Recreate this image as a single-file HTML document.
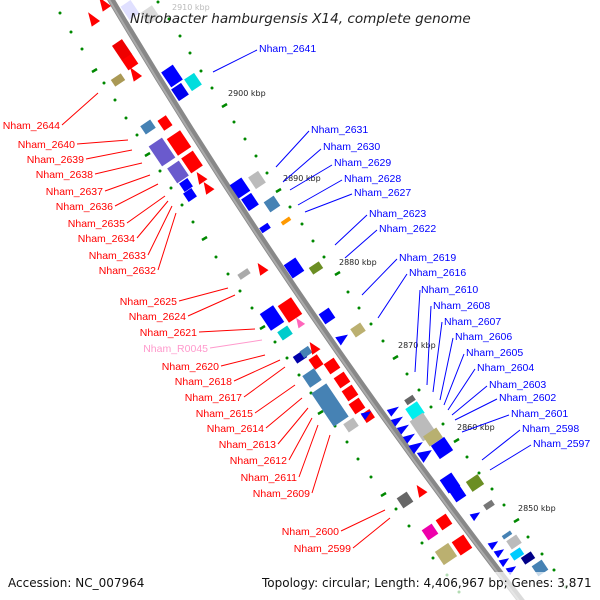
<!DOCTYPE html>
<html><head><meta charset="utf-8"><style>
body{margin:0;background:#fff}
svg{display:block}
.r{fill:#f00;font:10.5px "Liberation Sans",sans-serif;text-anchor:end}
.b{fill:#00f;font:10.5px "Liberation Sans",sans-serif}
.k{fill:#222;font:8px "DejaVu Sans","Liberation Sans",sans-serif}
</style></head><body>
<svg width="600" height="600" viewBox="0 0 600 600" xmlns="http://www.w3.org/2000/svg">
<path d="M110,-2 Q289,300 522,602" stroke="#888" stroke-width="7" fill="none"/>
<path d="M108,-2 Q287,300 520,602" stroke="#aaa" stroke-width="2" fill="none"/>

<g fill="#080">
<circle cx="158" cy="2" r="1.5"/><circle cx="169" cy="19" r="1.5"/><circle cx="180" cy="36" r="1.5"/><circle cx="190" cy="53" r="1.5"/><circle cx="201" cy="71" r="1.5"/><circle cx="212" cy="88" r="1.5"/><circle cx="234" cy="122" r="1.5"/><circle cx="245" cy="139" r="1.5"/><circle cx="256" cy="156" r="1.5"/><circle cx="267" cy="173" r="1.5"/><circle cx="290" cy="207" r="1.5"/><circle cx="302" cy="224" r="1.5"/><circle cx="313" cy="241" r="1.5"/><circle cx="324" cy="257" r="1.5"/><circle cx="348" cy="292" r="1.5"/><circle cx="359" cy="308" r="1.5"/><circle cx="371" cy="324" r="1.5"/><circle cx="383" cy="341" r="1.5"/><circle cx="407" cy="374" r="1.5"/><circle cx="419" cy="390" r="1.5"/><circle cx="431" cy="407" r="1.5"/><circle cx="443" cy="424" r="1.5"/><circle cx="467" cy="457" r="1.5"/><circle cx="479" cy="473" r="1.5"/><circle cx="492" cy="489" r="1.5"/><circle cx="504" cy="505" r="1.5"/><circle cx="528" cy="537" r="1.5"/><circle cx="542" cy="554" r="1.5"/><circle cx="554" cy="570" r="1.5"/><circle cx="566" cy="587" r="1.5"/>
<circle cx="60" cy="13" r="1.5"/><circle cx="71" cy="32" r="1.5"/><circle cx="82" cy="49" r="1.5"/><circle cx="104" cy="83" r="1.5"/><circle cx="115" cy="100" r="1.5"/><circle cx="126" cy="118" r="1.5"/><circle cx="137" cy="135" r="1.5"/><circle cx="160" cy="171" r="1.5"/><circle cx="171" cy="188" r="1.5"/><circle cx="182" cy="205" r="1.5"/><circle cx="193" cy="222" r="1.5"/><circle cx="216" cy="257" r="1.5"/><circle cx="228" cy="274" r="1.5"/><circle cx="240" cy="291" r="1.5"/><circle cx="252" cy="308" r="1.5"/><circle cx="275" cy="342" r="1.5"/><circle cx="287" cy="358" r="1.5"/><circle cx="299" cy="375" r="1.5"/><circle cx="311" cy="393" r="1.5"/><circle cx="335" cy="426" r="1.5"/><circle cx="347" cy="442" r="1.5"/><circle cx="358" cy="459" r="1.5"/><circle cx="371" cy="477" r="1.5"/><circle cx="396" cy="509" r="1.5"/><circle cx="409" cy="526" r="1.5"/><circle cx="422" cy="543" r="1.5"/><circle cx="433" cy="558" r="1.5"/><circle cx="447" cy="575" r="1.5"/><circle cx="459" cy="592" r="1.5"/>
</g>
<g stroke="#080" stroke-width="2.5">
<path d="M222,107l5,-3M276,192l5,-3M335,275l5,-3M393,359l5,-3M454,442l5,-3M514,522l5,-3M145,156l5,-3M202,240l5,-3M260,329l5,-3M318,414l5,-3M381,496l5,-3M92,72l5,-3"/>
</g>
<text class="k" x="172" y="10" style="fill:#bbb">2910 kbp</text>
<text class="k" x="228" y="96">2900 kbp</text>
<text class="k" x="283" y="181">2890 kbp</text>
<text class="k" x="339" y="265">2880 kbp</text>
<text class="k" x="398" y="348">2870 kbp</text>
<text class="k" x="457" y="430">2860 kbp</text>
<text class="k" x="518" y="511">2850 kbp</text>

<g stroke="none">
<rect x="-8" y="-6" width="16" height="12" fill="#ccf" opacity=".6" transform="translate(130,10) rotate(56)"/>
<rect x="-7" y="-7" width="14" height="14" fill="#ccc" opacity=".7" transform="translate(150,15) rotate(56)"/>
<polygon points="-7,-5 7,0 -7,5" fill="#f00" transform="translate(103,3) rotate(236)"/>
<polygon points="-7,-5 7,0 -7,5" fill="#f00" transform="translate(92,18) rotate(236)"/>
<rect x="-9" y="-7" width="18" height="14" fill="#00f" transform="translate(172,76) rotate(56)"/>
<rect x="-7" y="-6" width="14" height="12" fill="#00e" transform="translate(180,92) rotate(56)"/>
<rect x="-7" y="-6" width="14" height="12" fill="#0dd" transform="translate(193,82) rotate(56)"/>
<rect x="-9" y="-6" width="18" height="12" fill="#e00" transform="translate(122,50) rotate(56)"/>
<rect x="-6" y="-6" width="12" height="12" fill="#f00" transform="translate(130,62) rotate(56)"/>
<polygon points="-7,-5 7,0 -7,5" fill="#f00" transform="translate(134,73) rotate(236)"/>
<rect x="-6" y="-4" width="12" height="8" fill="#aa9955" transform="translate(118,80) rotate(-34)"/>
<rect x="-6" y="-5" width="12" height="10" fill="#4682b4" transform="translate(148,127) rotate(-34)"/>
<rect x="-12" y="-8" width="24" height="16" fill="#6a5acd" transform="translate(162,152) rotate(56)"/>
<rect x="-9" y="-7" width="18" height="14" fill="#6a5acd" transform="translate(178,172) rotate(56)"/>
<rect x="-6" y="-5" width="12" height="10" fill="#f00" transform="translate(165,123) rotate(56)"/>
<rect x="-10" y="-8" width="20" height="16" fill="#f00" transform="translate(179,143) rotate(56)"/>
<rect x="-9" y="-7" width="18" height="14" fill="#f00" transform="translate(192,162) rotate(56)"/>
<polygon points="-6,-5 6,0 -6,5" fill="#f00" transform="translate(200,177) rotate(236)"/>
<polygon points="-6,-5 6,0 -6,5" fill="#f00" transform="translate(207,187) rotate(236)"/>
<rect x="-5" y="-5" width="10" height="10" fill="#00f" transform="translate(186,185) rotate(56)"/>
<rect x="-5" y="-5" width="10" height="10" fill="#00f" transform="translate(190,195) rotate(56)"/>
<rect x="-8" y="-7" width="16" height="14" fill="#00f" transform="translate(240,188) rotate(56)"/>
<rect x="-7" y="-6" width="14" height="12" fill="#00f" transform="translate(250,202) rotate(56)"/>
<rect x="-7" y="-6" width="14" height="12" fill="#bbb" transform="translate(257,180) rotate(56)"/>
<rect x="-6" y="-6" width="12" height="12" fill="#4682b4" transform="translate(272,204) rotate(56)"/>
<rect x="-5" y="-3" width="10" height="6" fill="#00f" transform="translate(265,228) rotate(-34)"/>
<rect x="-5" y="-2" width="10" height="4" fill="#f90" transform="translate(286,221) rotate(-34)"/>
<rect x="-8" y="-7" width="16" height="14" fill="#00f" transform="translate(294,268) rotate(56)"/>
<rect x="-6" y="-4" width="12" height="8" fill="#6b8e23" transform="translate(316,268) rotate(-34)"/>
<rect x="-6" y="-6" width="12" height="12" fill="#00f" transform="translate(327,316) rotate(56)"/>
<rect x="-6" y="-5" width="12" height="10" fill="#bbb070" transform="translate(358,330) rotate(-34)"/>
<polygon points="-6,-5 6,0 -6,5" fill="#00f" transform="translate(343,338) rotate(-34)"/>
<rect x="-6" y="-3" width="12" height="6" fill="#aaa" transform="translate(244,274) rotate(-34)"/>
<polygon points="-6,-5 6,0 -6,5" fill="#f00" transform="translate(261,268) rotate(236)"/>
<rect x="-10" y="-8" width="20" height="16" fill="#00f" transform="translate(272,318) rotate(56)"/>
<rect x="-10" y="-8" width="20" height="16" fill="#f00" transform="translate(290,310) rotate(56)"/>
<rect x="-6" y="-5" width="12" height="10" fill="#0cc" transform="translate(285,333) rotate(-34)"/>
<polygon points="-5,-4 5,0 -5,4" fill="#f6b" transform="translate(299,322) rotate(236)"/>
<rect x="-6" y="-4" width="12" height="8" fill="#00a" transform="translate(300,357) rotate(-34)"/>
<rect x="-5" y="-4" width="10" height="8" fill="#4682b4" transform="translate(306,352) rotate(-34)"/>
<polygon points="-6,-5 6,0 -6,5" fill="#f00" transform="translate(313,347) rotate(236)"/>
<rect x="-6" y="-5" width="12" height="10" fill="#f00" transform="translate(316,362) rotate(56)"/>
<rect x="-7" y="-7" width="14" height="14" fill="#4682b4" transform="translate(312,378) rotate(56)"/>
<rect x="-20" y="-9" width="40" height="18" fill="#4682b4" transform="translate(330,405) rotate(56)"/>
<rect x="-6" y="-6" width="12" height="12" fill="#f00" transform="translate(332,366) rotate(56)"/>
<rect x="-6" y="-6" width="12" height="12" fill="#f00" transform="translate(342,380) rotate(56)"/>
<rect x="-6" y="-6" width="12" height="12" fill="#f00" transform="translate(350,393) rotate(56)"/>
<rect x="-6" y="-6" width="12" height="12" fill="#f00" transform="translate(357,406) rotate(56)"/>
<rect x="-6" y="-5" width="12" height="10" fill="#bbb" transform="translate(351,425) rotate(-34)"/>
<rect x="-5" y="-5" width="10" height="10" fill="#f00" transform="translate(368,416) rotate(56)"/>
<polygon points="-5,-4 5,0 -5,4" fill="#00f" transform="translate(367,414) rotate(-34)"/>
<rect x="-5" y="-3" width="10" height="6" fill="#666" transform="translate(410,400) rotate(-34)"/>
<rect x="-7" y="-7" width="14" height="14" fill="#0ee" transform="translate(415,411) rotate(56)"/>
<rect x="-12" y="-8" width="24" height="16" fill="#bbb" transform="translate(423,427) rotate(56)"/>
<rect x="-6" y="-8" width="12" height="16" fill="#b8b070" transform="translate(433,437) rotate(56)"/>
<rect x="-8" y="-8" width="16" height="16" fill="#00f" transform="translate(442,448) rotate(56)"/>
<g fill="#00f">
<polygon points="-6,-4 6,0 -6,4" transform="translate(394,410) rotate(-34)"/>
<polygon points="-6,-4 6,0 -6,4" transform="translate(398,420) rotate(-34)"/>
<polygon points="-6,-4 6,0 -6,4" transform="translate(404,428) rotate(-34)"/>
<polygon points="-6,-4 6,0 -6,4" transform="translate(410,437) rotate(-34)"/>
<polygon points="-7,-5 7,0 -7,5" transform="translate(417,446) rotate(-34)"/>
<polygon points="-7,-6 7,0 -7,6" transform="translate(426,454) rotate(-34)"/>
</g>
<rect x="-8" y="-7" width="16" height="14" fill="#00f" transform="translate(450,483) rotate(56)"/>
<rect x="-6" y="-6" width="12" height="12" fill="#00f" transform="translate(458,494) rotate(56)"/>
<rect x="-7" y="-6" width="14" height="12" fill="#6b8e23" transform="translate(475,483) rotate(-34)"/>
<rect x="-5" y="-3" width="10" height="6" fill="#777" transform="translate(489,505) rotate(-34)"/>
<polygon points="-5,-4 5,0 -5,4" fill="#00f" transform="translate(476,515) rotate(-34)"/>
<rect x="-6" y="-6" width="12" height="12" fill="#666" transform="translate(405,500) rotate(-34)"/>
<polygon points="-6,-5 6,0 -6,5" fill="#f00" transform="translate(420,490) rotate(236)"/>
<rect x="-6" y="-6" width="12" height="12" fill="#e0a" transform="translate(430,532) rotate(-34)"/>
<rect x="-6" y="-6" width="12" height="12" fill="#f00" transform="translate(444,522) rotate(56)"/>
<rect x="-8" y="-8" width="16" height="16" fill="#bbb070" transform="translate(446,554) rotate(-34)"/>
<rect x="-8" y="-7" width="16" height="14" fill="#f00" transform="translate(462,545) rotate(56)"/>
<rect x="-5" y="-2" width="10" height="4" fill="#4682b4" transform="translate(507,535) rotate(-34)"/>
<rect x="-6" y="-5" width="12" height="10" fill="#bbb" transform="translate(514,542) rotate(-34)"/>
<rect x="-6" y="-4" width="12" height="8" fill="#0cf" transform="translate(517,554) rotate(-34)"/>
<rect x="-6" y="-4" width="12" height="8" fill="#008" transform="translate(528,558) rotate(-34)"/>
<rect x="-6" y="-6" width="12" height="12" fill="#4682b4" transform="translate(540,568) rotate(-34)"/>
<g fill="#00f">
<polygon points="-5,-4 5,0 -5,4" transform="translate(494,544) rotate(-34)"/>
<polygon points="-5,-4 5,0 -5,4" transform="translate(500,552) rotate(-34)"/>
<polygon points="-5,-4 5,0 -5,4" transform="translate(505,561) rotate(-34)"/>
<polygon points="-5,-4 5,0 -5,4" transform="translate(512,569) rotate(-34)"/>
</g>
</g>

<g stroke="#f00" stroke-width="1">
<path d="M62,125L98,93M77,144L128,140M86,159L132,150M95,174L142,163M105,191L150,175M115,206L158,184M127,223L165,196M137,238L168,201M148,255L172,206M158,270L176,213M179,301L228,288M188,316L235,295M199,332L255,329M221,366L265,355M234,381L280,360M244,397L285,367M255,413L295,385M266,428L302,398M278,444L308,408M289,460L312,418M299,477L318,425M312,493L330,435M341,531L385,510M353,548L390,518"/>
</g>
<path d="M210,348L262,340" stroke="#f9c" stroke-width="1"/>
<g stroke="#00f" stroke-width="1">
<path d="M257,50L213,72M309,131L276,167M321,149L283,182M332,165L290,190M342,180L298,205M352,194L305,212M367,215L335,245M377,230L345,258M397,259L362,295M407,274L378,318M420,290L415,372M431,306L427,385M442,322L433,392M453,338L440,400M464,354L444,405M475,369L448,410M487,386L452,415M497,399L455,420M509,415L462,432M520,430L482,460M531,445L490,470"/>
</g>

<g class="r">
<text x="60" y="129">Nham_2644</text><text x="75" y="148">Nham_2640</text><text x="84" y="163">Nham_2639</text><text x="93" y="178">Nham_2638</text><text x="103" y="195">Nham_2637</text><text x="113" y="210">Nham_2636</text><text x="125" y="227">Nham_2635</text><text x="135" y="242">Nham_2634</text><text x="146" y="259">Nham_2633</text><text x="156" y="274">Nham_2632</text><text x="177" y="305">Nham_2625</text><text x="186" y="320">Nham_2624</text><text x="197" y="336">Nham_2621</text><text x="208" y="352" style="fill:#f9c">Nham_R0045</text><text x="219" y="370">Nham_2620</text><text x="232" y="385">Nham_2618</text><text x="242" y="401">Nham_2617</text><text x="253" y="417">Nham_2615</text><text x="264" y="432">Nham_2614</text><text x="276" y="448">Nham_2613</text><text x="287" y="464">Nham_2612</text><text x="297" y="481">Nham_2611</text><text x="310" y="497">Nham_2609</text><text x="339" y="535">Nham_2600</text><text x="351" y="552">Nham_2599</text>
</g>
<g class="b">
<text x="259" y="52">Nham_2641</text><text x="311" y="133">Nham_2631</text><text x="323" y="150">Nham_2630</text><text x="334" y="166">Nham_2629</text><text x="344" y="182">Nham_2628</text><text x="354" y="196">Nham_2627</text><text x="369" y="217">Nham_2623</text><text x="379" y="232">Nham_2622</text><text x="399" y="261">Nham_2619</text><text x="409" y="276">Nham_2616</text><text x="421" y="293">Nham_2610</text><text x="433" y="309">Nham_2608</text><text x="444" y="325">Nham_2607</text><text x="455" y="340">Nham_2606</text><text x="466" y="356">Nham_2605</text><text x="477" y="371">Nham_2604</text><text x="489" y="388">Nham_2603</text><text x="499" y="401">Nham_2602</text><text x="511" y="417">Nham_2601</text><text x="522" y="432">Nham_2598</text><text x="533" y="447">Nham_2597</text>
</g>

<rect x="0" y="572" width="600" height="28" fill="#fff" opacity=".7"/>
<text x="130" y="23" style="font:italic 13.6px 'DejaVu Sans','Liberation Sans',sans-serif;fill:#222">Nitrobacter hamburgensis X14, complete genome</text>
<text x="8" y="587" style="font:12px 'DejaVu Sans','Liberation Sans',sans-serif;fill:#111">Accession: NC_007964</text>
<text x="262" y="587" style="font:12px 'DejaVu Sans','Liberation Sans',sans-serif;fill:#111">Topology: circular; Length: 4,406,967 bp; Genes: 3,871</text>
</svg>
</body></html>
